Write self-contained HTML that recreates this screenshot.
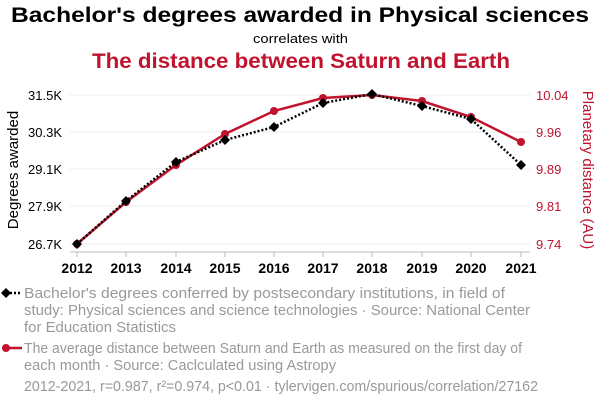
<!DOCTYPE html><html><head><style>body{margin:0;background:#fff;width:600px;height:408px;overflow:hidden;font-family:"Liberation Sans",sans-serif}</style></head><body>
<svg width="600" height="408" xmlns="http://www.w3.org/2000/svg" font-family="Liberation Sans, sans-serif">
<text x="11" y="22" font-size="21" font-weight="bold" fill="#000" textLength="578" lengthAdjust="spacingAndGlyphs">Bachelor's degrees awarded in Physical sciences</text>
<text x="253" y="43" font-size="13" fill="#000" textLength="95" lengthAdjust="spacingAndGlyphs">correlates with</text>
<text x="92" y="68" font-size="21" font-weight="bold" fill="#c0132e" textLength="418" lengthAdjust="spacingAndGlyphs">The distance between Saturn and Earth</text>
<g stroke="#eee" stroke-width="1">
<line x1="70" x2="530" y1="95" y2="95"/><line x1="70" x2="530" y1="132" y2="132"/><line x1="70" x2="530" y1="169" y2="169"/><line x1="70" x2="530" y1="206" y2="206"/><line x1="70" x2="530" y1="244" y2="244"/></g>
<line x1="70" x2="530" y1="252" y2="252" stroke="#bbb"/>
<g stroke="#bbb"><line x1="77" x2="77" y1="252" y2="257"/><line x1="126" x2="126" y1="252" y2="257"/><line x1="176" x2="176" y1="252" y2="257"/><line x1="225" x2="225" y1="252" y2="257"/><line x1="274" x2="274" y1="252" y2="257"/><line x1="323" x2="323" y1="252" y2="257"/><line x1="372" x2="372" y1="252" y2="257"/><line x1="422" x2="422" y1="252" y2="257"/><line x1="471" x2="471" y1="252" y2="257"/><line x1="521" x2="521" y1="252" y2="257"/></g>
<g font-size="14" font-weight="bold" text-anchor="middle" fill="#000">
<text x="77" y="273">2012</text><text x="126" y="273">2013</text><text x="176" y="273">2014</text><text x="225" y="273">2015</text><text x="274" y="273">2016</text><text x="323" y="273">2017</text><text x="372" y="273">2018</text><text x="422" y="273">2019</text><text x="471" y="273">2020</text><text x="521" y="273">2021</text></g>
<g font-size="13" text-anchor="end" fill="#000"><text x="62" y="100">31.5K</text><text x="62" y="137">30.3K</text><text x="62" y="174">29.1K</text><text x="62" y="211">27.9K</text><text x="62" y="249">26.7K</text></g>
<g font-size="13" fill="#c0132e"><text x="536" y="100">10.04</text><text x="536" y="137">9.96</text><text x="536" y="174">9.89</text><text x="536" y="211">9.81</text><text x="536" y="249">9.74</text></g>
<text transform="translate(18,170) rotate(-90)" text-anchor="middle" font-size="15" fill="#000">Degrees awarded</text>
<text transform="translate(583,170) rotate(90)" text-anchor="middle" font-size="15" fill="#c0132e">Planetary distance (AU)</text>
<polyline fill="none" stroke="#c0132e" stroke-width="2.5" points="77,244 126,202 176,165 225,134 274,111 323,98 372,95 422,101 471,117 521,142"/>
<g fill="#c0132e"><circle cx="77" cy="244" r="4"/><circle cx="126" cy="202" r="4"/><circle cx="176" cy="165" r="4"/><circle cx="225" cy="134" r="4"/><circle cx="274" cy="111" r="4"/><circle cx="323" cy="98" r="4"/><circle cx="372" cy="95" r="4"/><circle cx="422" cy="101" r="4"/><circle cx="471" cy="117" r="4"/><circle cx="521" cy="142" r="4"/></g>
<polyline fill="none" stroke="#000" stroke-width="2.5" stroke-dasharray="2,2" points="77,244 126,201 176,162 225,140 274,127 323,103 372,94 422,106 471,119 521,165"/>
<g fill="#000">
<path d="M77,239l5,5-5,5-5-5z"/><path d="M126,196l5,5-5,5-5-5z"/><path d="M176,157l5,5-5,5-5-5z"/><path d="M225,135l5,5-5,5-5-5z"/><path d="M274,122l5,5-5,5-5-5z"/><path d="M323,98l5,5-5,5-5-5z"/><path d="M372,89l5,5-5,5-5-5z"/><path d="M422,101l5,5-5,5-5-5z"/><path d="M471,114l5,5-5,5-5-5z"/><path d="M521,160l5,5-5,5-5-5z"/></g>
<line x1="2" x2="22" y1="293" y2="293" stroke="#000" stroke-width="2.5" stroke-dasharray="2,2"/>
<path d="M6,288l5,5-5,5-5-5z" fill="#000"/>
<line x1="2" x2="22" y1="348" y2="348" stroke="#c0132e" stroke-width="2.5"/>
<circle cx="6" cy="348" r="4" fill="#c0132e"/>
<g font-size="15" fill="#999">
<text x="24" y="298" textLength="481" lengthAdjust="spacingAndGlyphs">Bachelor's degrees conferred by postsecondary institutions, in field of</text>
<text x="24" y="315" textLength="506" lengthAdjust="spacingAndGlyphs">study: Physical sciences and science technologies · Source: National Center</text>
<text x="24" y="332" textLength="152" lengthAdjust="spacingAndGlyphs">for Education Statistics</text>
<text x="24" y="353" textLength="498" lengthAdjust="spacingAndGlyphs">The average distance between Saturn and Earth as measured on the first day of</text>
<text x="24" y="370" textLength="312" lengthAdjust="spacingAndGlyphs">each month · Source: Caclculated using Astropy</text>
<text x="24" y="391" textLength="514" lengthAdjust="spacingAndGlyphs">2012-2021, r=0.987, r²=0.974, p&lt;0.01 · tylervigen.com/spurious/correlation/27162</text>
</g>
</svg></body></html>
